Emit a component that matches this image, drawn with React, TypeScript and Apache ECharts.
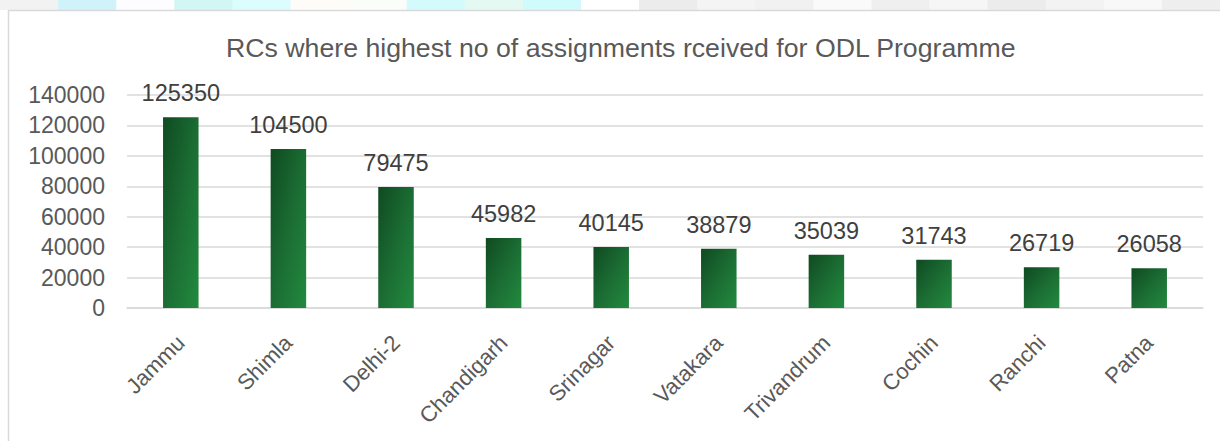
import React, { useEffect, useRef } from "react";
import * as echarts from "echarts";

const titleText = "RCs where highest no of assignments rceived for ODL Programme";
const categories = ["Jammu", "Shimla", "Delhi-2", "Chandigarh", "Srinagar", "Vatakara", "Trivandrum", "Cochin", "Ranchi", "Patna"];
const assignments = [125350, 104500, 79475, 45982, 40145, 38879, 35039, 31743, 26719, 26058];
const yMax = 140000;
const yInterval = 20000;

// faint background strip above the chart frame
const stripColors = ["#f2f2f2", "#cff3f8", "#fdfcff", "#d2f6f4", "#dcfdfd", "#fdfcf8", "#fbfdfb", "#d3fbfc", "#e4f9f1", "#d0fafc", "#ffffff", "#ececec", "#f4f4f4", "#f1f1f1", "#fafafa", "#efefef", "#f6f6f6", "#ececec", "#f3f3f3", "#f8f8f8", "#eeeeee"];

const FONT = "Liberation Sans";

export default function App() {
  const ref = useRef<HTMLDivElement>(null);
  useEffect(() => {
    if (!ref.current) return;
    const chart = echarts.init(ref.current, null, { renderer: "svg" });
    const stripW = 1220 / stripColors.length;
    const strip = stripColors.map((c, i) => ({
      type: "rect",
      shape: { x: i * stripW, y: 0, width: stripW + 1, height: 10 },
      style: { fill: c },
      silent: true,
    }));
    chart.setOption({
      animation: false,
      backgroundColor: "#ffffff",
      title: {
        text: titleText,
        left: 221,
        top: 29,
        textStyle: { fontFamily: FONT, fontSize: 26.7, fontWeight: "normal", color: "#595959" },
      },
      graphic: [
        ...strip,
        {
          type: "rect",
          shape: { x: 8.5, y: 10.5, width: 1240, height: 460 },
          style: { fill: "none", stroke: "#d9d9d9", lineWidth: 1.5 },
          silent: true,
          z: 0,
        },
      ],
      grid: { left: 127, right: 17, top: 95, bottom: 133, containLabel: false },
      xAxis: {
        type: "category",
        data: categories,
        axisLine: { show: true, lineStyle: { color: "#d9d9d9", width: 1.5 } },
        axisTick: { show: false },
        axisLabel: {
          rotate: 45,
          interval: 0,
          margin: 31,
          fontFamily: FONT,
          fontSize: 22,
          color: "#595959",
        },
      },
      yAxis: {
        type: "value",
        min: 0,
        max: yMax,
        interval: yInterval,
        axisLine: { show: false },
        axisTick: { show: false },
        splitLine: { lineStyle: { color: "#d9d9d9", width: 1.5 } },
        axisLabel: {
          margin: 22,
          fontFamily: FONT,
          fontSize: 23,
          color: "#595959",
          formatter: (v: number) => String(v),
        },
      },
      series: [
        {
          type: "bar",
          data: assignments,
          barWidth: "33%",
          itemStyle: {
            color: new echarts.graphic.LinearGradient(0, 0, 1, 1, [
              { offset: 0, color: "#0f4a21" },
              { offset: 0.5, color: "#1b6c33" },
              { offset: 1, color: "#228a3e" },
            ]),
          },
          label: {
            show: true,
            position: "top",
            distance: 12,
            fontFamily: FONT,
            fontSize: 23.5,
            color: "#404040",
          },
        },
      ],
    });
    return () => chart.dispose();
  }, []);
  return <div ref={ref} style={{ position: "fixed", left: 0, top: 0, width: 1220, height: 441 }} />;
}
